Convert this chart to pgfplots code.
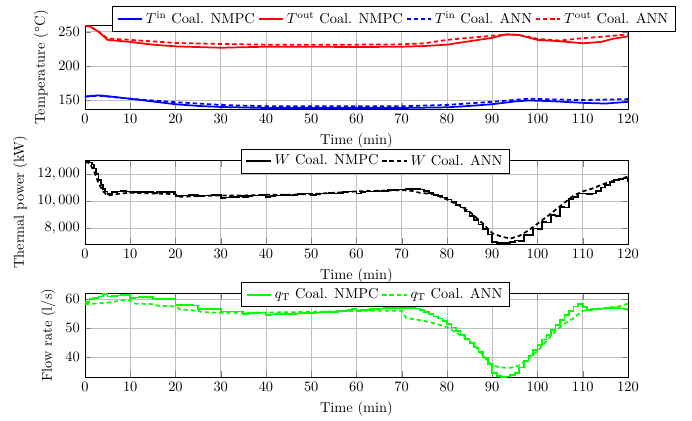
\documentclass[border=0pt]{standalone}
\usepackage{pgfplots}
\pgfplotsset{compat=1.18}
\begin{document}
\begin{tikzpicture}
\useasboundingbox (-59pt,-29.9pt) rectangle (421.5pt,261.8pt);
\pgfplotsset{
  every axis/.append style={
    scale only axis, width=377pt, height=58pt,
    xmin=0, xmax=120, xtick={0,10,...,120},
    xlabel={Time (min)}, grid=major, anchor=south west,
    legend columns=-1,
    legend style={anchor=north},
    scaled y ticks=false,
    yticklabel style={/pgf/number format/.cd, fixed, 1000 sep={,}},
  },
  ann/.style={dash pattern=on 3pt off 2pt},
}
% Temperatures
\begin{axis}[at={(0,186.1pt)}, ymin=137, ymax=259, ytick={150,200,250},
  ylabel={Temperature ($^\circ$C)},
  legend style={at={(0.569,1.238)}}]
\addplot[blue, line width=1.2pt] coordinates {
(0,155.3) (3,157) (6,155) (10,152) (15,148) (20,144) (25,141.5) (30,140) (40,138.5) (50,138.5) (60,138.5) (70,138.5) (80,139.5) (85,141.5) (90,144) (95,148) (98,149.5) (103,148.5) (110,146) (115,145) (120,147.5)};
\addlegendentry{$T^{\mathrm{in}}$ Coal. NMPC}
\addplot[red, line width=1.2pt] coordinates {
(0,258) (1,258) (3,250) (5,238) (10,235) (15,231) (20,228.5) (30,226.5) (40,228) (50,228) (60,227.5) (70,228) (75,229) (80,231) (85,236) (90,241) (93,246) (96,245) (100,238) (105,236) (110,233) (114,235) (117,240) (120,243)};
\addlegendentry{$T^{\mathrm{out}}$ Coal. NMPC}
\addplot[blue, ann, line width=1.2pt] coordinates {
(0,155) (3,156.5) (10,152) (20,147) (30,143) (40,141) (50,141) (60,141) (70,141) (80,143) (90,147.5) (98,152) (104,151) (110,150) (120,151.5)};
\addlegendentry{$T^{\mathrm{in}}$ Coal. ANN}
\addplot[red, ann, line width=1.2pt] coordinates {
(0,258) (1,258) (3,250) (5,240) (10,238) (20,233.5) (30,232) (40,231) (50,231) (60,231) (70,231.5) (75,233) (80,238) (85,241) (90,244) (94,246) (97,244) (100,239.5) (105,237) (110,240.5) (115,243) (120,246)};
\addlegendentry{$T^{\mathrm{out}}$ Coal. ANN}
\end{axis}
% Thermal power
\begin{axis}[at={(0,92.4pt)}, ymin=6800, ymax=13000, ytick={8000,10000,12000},
  ylabel={Thermal power (kW)},
  legend style={at={(0.535,1.141)}}]
\addplot[black, const plot, line width=1.2pt] coordinates {
(0,12900) (0.5,12950) (1,12850) (1.5,12700) (2,12400) (2.5,12000) (3,11550) (3.5,11200) (4,10900) (4.5,10700) (5,10500) (6,10650) (7,10700) (8,10750) (9,10700)
(10,10650) (11,10650) (12,10650) (13,10650) (14,10650) (15,10600) (16,10650) (17,10650) (18,10650) (19,10650)
(20,10350) (21,10400) (22,10400) (23,10450) (24,10450) (25,10350) (26,10400) (27,10400) (28,10450) (29,10450)
(30,10200) (31,10250) (32,10300) (33,10300) (34,10350) (35,10300) (36,10350) (37,10400) (38,10400) (39,10450)
(40,10300) (41,10350) (42,10400) (43,10400) (44,10450) (45,10400) (46,10450) (47,10500) (48,10550) (49,10550)
(50,10450) (51,10500) (52,10550) (53,10550) (54,10600) (55,10550) (56,10600) (57,10650) (58,10700) (59,10700)
(60,10550) (61,10650) (62,10700) (63,10700) (64,10750) (65,10700) (66,10750) (67,10800) (68,10800) (69,10850)
(70,10850) (71,10900) (72,10900) (73,10900) (74,10850) (75,10750) (76,10600) (77,10450) (78,10350) (79,10250)
(80,10100) (81,9900) (82,9700) (83,9500) (84,9200) (85,8900) (86,8600) (87,8250) (88,7900) (89,7500)
(90,6950) (91,6850) (92,6850) (93,6850) (94,6950) (95,7050) (96,7000) (97,7450) (98,7450) (99,7950)
(100,7900) (101,8450) (102,8400) (103,8950) (104,8900) (105,9550) (106,9500) (107,10150) (108,10300) (109,10550)
(110,10550) (111,10500) (112,10550) (113,10750) (114,11000) (115,11200) (116,11400) (117,11550) (118,11600) (119,11650) (120,11400)};
\addlegendentry{$W$ Coal. NMPC}
\addplot[black, ann, line width=1.2pt] coordinates {
(0,12900) (1,12800) (2,12200) (3,11300) (4,10700) (5,10400) (6,10450) (8,10550) (10,10600) (15,10550)
(20,10500) (20.5,10300) (25,10350) (30,10400) (35,10400) (40,10450) (45,10450) (50,10500) (55,10600)
(60,10700) (65,10750) (70,10800) (72,10750) (74,10600) (77,10500) (80,10100) (83,9600) (85,9200)
(88,8300) (90,7600) (92,7350) (94,7200) (96,7400) (98,7800) (100,8300) (102,8800) (105,9600)
(108,10400) (110,10700) (112,10900) (115,11300) (118,11600) (120,11800)};
\addlegendentry{$W$ Coal. ANN}
\end{axis}
% Flow rate
\begin{axis}[at={(0,0)}, ymin=33, ymax=62, ytick={40,50,60},
  ylabel={Flow rate (l/s)},
  legend style={at={(0.535,1.133)}}]
\addplot[green, const plot, line width=1.2pt] coordinates {
(0,59) (1,60) (2,60.5) (3,61) (4,61.8) (5,61) (6,61.2) (7,61.3) (8,61.4) (9,61.5)
(10,60.5) (11,60.6) (12,60.7) (13,60.8) (14,60.8) (15,60) (16,60.1) (17,60.2) (18,60.2) (19,60.2)
(20,58) (21,58) (22,58) (23,58) (24,57.8) (25,56.6) (26,56.6) (27,56.6) (28,56.7) (29,56.7)
(30,55.8) (31,55.8) (32,55.8) (33,55.8) (34,55.8) (35,55) (36,55.2) (37,55.3) (38,55.3) (39,55.4)
(40,54.6) (41,54.7) (42,54.8) (43,54.9) (44,55) (45,54.8) (46,55) (47,55.1) (48,55.2) (49,55.3)
(50,55.2) (51,55.4) (52,55.5) (53,55.6) (54,55.7) (55,55.7) (56,55.9) (57,56) (58,56.2) (59,56.5)
(60,56) (61,56.3) (62,56.4) (63,56.5) (64,56.6) (65,56.8) (66,56.9) (67,57) (68,57) (69,57)
(70,57) (71,57) (72,57) (73,56.8) (74,56.3) (75,55.6) (76,54.8) (77,54) (78,53.3) (79,52.4)
(80,51.4) (81,50.2) (82,49) (83,47.6) (84,46.2) (85,44.8) (86,43.3) (87,41.6) (88,39.8) (89,37.5)
(90,34.5) (91,33.3) (92,33) (93,33.2) (94,33.6) (95,34.5) (96,36.3) (97,38.5) (98,40.5) (99,42.5)
(100,44) (101,46) (102,47.6) (103,49.3) (104,51) (105,52.8) (106,54.5) (107,56) (108,57.5) (109,58.3)
(110,57.3) (111,56.3) (112,56.5) (113,56.7) (114,56.8) (115,57) (116,57) (117,57) (118,56.8) (119,56.5) (120,56)};
\addlegendentry{$q_{\mathrm{T}}$ Coal. NMPC}
\addplot[green, ann, line width=1.2pt] coordinates {
(0,58.3) (5,58.8) (9,59.8) (10,59.5) (11,58.5) (15,58.3) (16,57.8) (20,57.5) (21,56.5) (25,56)
(26,55.5) (30,55.3) (40,55.4) (50,55.6) (60,56) (70,56) (71,53.5) (73,53) (75,52.5) (78,51.3)
(80,50.3) (82,48.5) (85,45.5) (87,42.5) (89,38.5) (90,37) (92,36.3) (94,36.2) (96,37) (98,39.5)
(100,42) (102,45.5) (104,49) (106,51.5) (108,53.5) (110,56) (112,56.5) (115,57) (118,57.5) (120,58.5)};
\addlegendentry{$q_{\mathrm{T}}$ Coal. ANN}
\end{axis}
\end{tikzpicture}
\end{document}
